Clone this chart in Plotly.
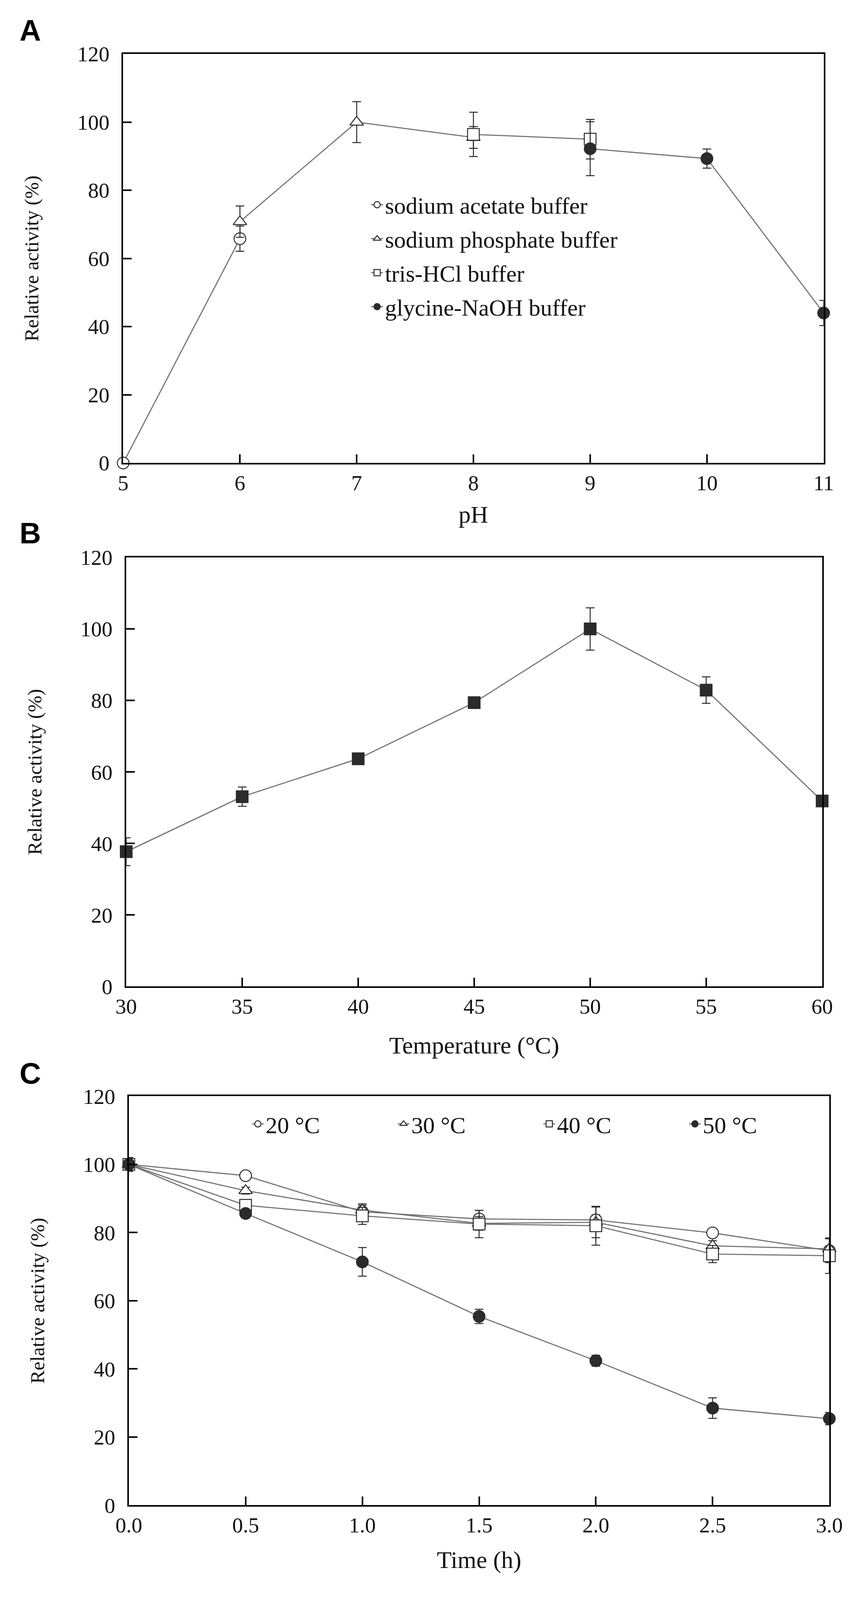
import plotly.graph_objects as go
from plotly.subplots import make_subplots

# Panel A - pH profile, one series per buffer
ph_acetate = [5, 6]
act_acetate = [0, 65.8]
err_acetate = [0, 3.7]

ph_phosphate = [6, 7, 8]
act_phosphate = [70.8, 100, 95.5]
err_phosphate = [4.6, 6.0, 3.2]

ph_tris = [8, 9]
act_tris = [96.4, 95.0]
err_tris = [6.5, 5.8]

ph_glycine = [9, 10, 11]
act_glycine = [92.2, 89.3, 44.0]
err_glycine = [7.9, 2.8, 3.7]

# Panel B - temperature profile
temps = [30, 35, 40, 45, 50, 55, 60]
act_temp = [37.7, 53.1, 63.7, 79.4, 100, 82.9, 51.9]
err_temp = [3.9, 2.7, 1.6, 1.3, 5.9, 3.7, 0.8]

# Panel C - thermostability over time
hours = [0, 0.5, 1.0, 1.5, 2.0, 2.5, 3.0]
stab_20 = [100, 96.7, 86.1, 84.0, 83.7, 79.9, 74.7]
err_20 = [2.0, 1.2, 1.9, 2.5, 1.5, 1.0, 3.5]
stab_30 = [100, 92.3, 86.6, 82.7, 83.0, 76.1, 75.2]
err_30 = [2.0, 1.0, 1.8, 2.0, 4.5, 1.5, 3.0]
stab_40 = [100, 88.0, 84.9, 82.5, 82.0, 73.7, 73.2]
err_40 = [2.0, 1.0, 2.5, 4.0, 5.7, 2.5, 5.2]
stab_50 = [100, 85.6, 71.4, 55.4, 42.4, 28.5, 25.4]
err_50 = [2.0, 1.0, 4.2, 2.1, 1.6, 3.0, 1.8]

W, H = 2217, 4936
OFF = 8  # page body margin, subtracted from the pixel positions below
LINE = "#707070"
EDGE = "#2b2b2b"
SERIF = "Liberation Serif, Times New Roman, serif"

fig = make_subplots(rows=3, cols=1)


def add_series(x, y, err, name, symbol, filled, row, legend=None, group=None):
    fig.add_trace(go.Scatter(
        x=x, y=y, name=name, mode="lines+markers",
        line=dict(color=LINE, width=2.8),
        marker=dict(symbol=symbol, size=30,
                    color=EDGE if filled else "white",
                    line=dict(color=EDGE, width=2.5)),
        error_y=dict(type="data", array=err, visible=True,
                     color=EDGE, thickness=2.5, width=11),
        cliponaxis=False,
        showlegend=legend is not None,
        legend=legend or "legend",
        legendgroup=group,
    ), row=row, col=1)


add_series(ph_acetate, act_acetate, err_acetate, "sodium acetate buffer", "circle", False, 1, "legend", "a")
add_series(ph_phosphate, act_phosphate, err_phosphate, "sodium phosphate buffer", "triangle-up", False, 1, "legend", "b")
add_series(ph_tris, act_tris, err_tris, "tris-HCl buffer", "square", False, 1, "legend", "c")
add_series(ph_glycine, act_glycine, err_glycine, "glycine-NaOH buffer", "circle", True, 1, "legend", "d")

add_series(temps, act_temp, err_temp, "temperature", "square", True, 2)

add_series(hours, stab_20, err_20, "20 °C", "circle", False, 3, "legend2")
add_series(hours, stab_30, err_30, "30 °C", "triangle-up", False, 3, "legend2")
add_series(hours, stab_40, err_40, "40 °C", "square", False, 3, "legend2")
add_series(hours, stab_50, err_50, "50 °C", "circle", True, 3, "legend2")

# plot boxes in pixels of the 2217x4936 reference: left, right, top, bottom
boxes = [(290, 2140, 131, 1417), (298, 2136, 1714, 3063), (305, 2155, 3408, 4694)]
xranges = [[5, 11], [30, 60], [0, 3]]
xdticks = [1, 5, 0.5]
xtitles = ["pH", "Temperature (°C)", "Time (h)"]
xformats = ["d", "d", ".1f"]
xstandoffs = [29, 48, 37]

axis_common = dict(
    showline=True, linecolor="black", linewidth=4, mirror=True,
    ticks="inside", ticklen=22, tickwidth=4, tickcolor="black",
    showgrid=False, zeroline=False,
    tickfont=dict(family=SERIF, size=55, color="#111111"),
)

for i, (l, r, t, b) in enumerate(boxes):
    n = "" if i == 0 else str(i + 1)
    l, r, t, b = l - OFF, r - OFF, t - OFF, b - OFF
    fig.layout["xaxis" + n].update(
        domain=[l / W, r / W], range=xranges[i], dtick=xdticks[i], tick0=xranges[i][0],
        tickformat=xformats[i], ticklabelstandoff=0,
        title=dict(text=xtitles[i], font=dict(family=SERIF, size=62, color="#111111"),
                   standoff=xstandoffs[i]),
        **axis_common)
    fig.layout["yaxis" + n].update(
        domain=[1 - b / H, 1 - t / H], range=[0, 120], dtick=20, ticklabelstandoff=20,
        title=dict(text="Relative activity (%)", font=dict(family=SERIF, size=51, color="#111111"),
                   standoff=84),
        **axis_common)

# panel letters
for letter, top in [("A", 18), ("B", 1598), ("C", 3297)]:
    fig.add_annotation(
        text="<b>%s</b>" % letter, xref="paper", yref="paper",
        x=(14 - OFF) / W, y=1 - (top - 16 - OFF) / H, xanchor="left", yanchor="top",
        showarrow=False, font=dict(family="Liberation Sans, Arial, sans-serif", size=76, color="black"))

# width is fixed; the height follows the browser window so the whole figure stays in view
fig.update_layout(
    width=W, autosize=True,
    margin=dict(l=0, r=0, t=0, b=0),
    paper_bgcolor="white", plot_bgcolor="white",
    font=dict(family=SERIF, color="#111111"),
    legend=dict(
        x=932 / W, y=1 - 541 / H, xanchor="left", yanchor="top",
        bgcolor="rgba(0,0,0,0)", font=dict(family=SERIF, size=60, color="#111111"),
        traceorder="grouped", tracegroupgap=6,
    ),
    legend2=dict(
        x=617 / W, y=1 - 3431 / H, xanchor="left", yanchor="top",
        orientation="h", entrywidth=328, entrywidthmode="pixels",
        bgcolor="rgba(0,0,0,0)", font=dict(family=SERIF, size=60, color="#111111"),
    ),
)

fig.write_html("out.html", default_height="calc(100vh - 16px)")
